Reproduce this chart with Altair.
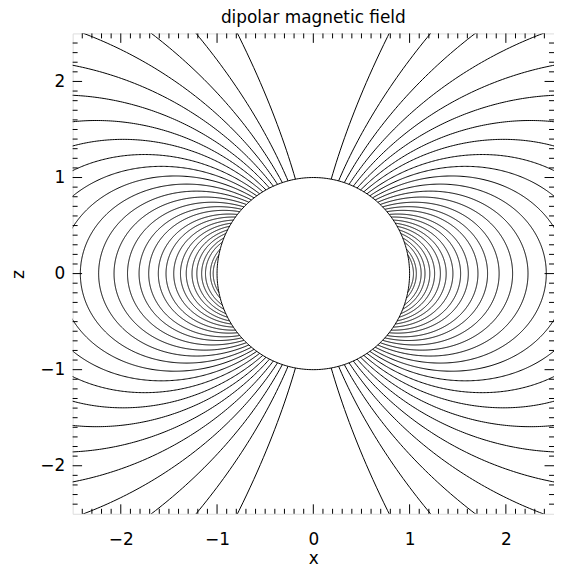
import numpy as np
import pandas as pd
import altair as alt

# ---- data -------------------------------------------------------------
# L-shell (equatorial crossing distance) of each plotted dipole field line
L_VALUES = [29.0, 14.5, 9.67, 7.25, 5.8, 4.83, 4.14, 3.63, 3.22, 2.9,
            2.64, 2.42, 2.23, 2.07, 1.93, 1.81, 1.71, 1.61, 1.53, 1.45,
            1.38, 1.32, 1.26, 1.21, 1.16, 1.12, 1.07, 1.04]
SIDES = [1, -1]                      # field lines on both sides of the dipole
PLANET_RADIUS = 1.0
DOMAIN = [-2.5, 2.5]
MAJOR_TICKS = [-2, -1, 0, 1, 2]
MINOR_TICKS = [round(-2.4 + 0.1 * i, 1) for i in range(49)
               if abs(round(-2.4 + 0.1 * i, 1) % 1) > 1e-9]
TITLE = "dipolar magnetic field"
X_TITLE = "x"
Z_TITLE = "z"

# ---- field line geometry: r = L sin^2(theta) ---------------------------
rows = []
lid = 0
for L in L_VALUES:
    th0 = np.arcsin(np.sqrt(PLANET_RADIUS / L))
    th = np.linspace(th0, np.pi - th0, 500)
    r = L * np.sin(th) ** 2
    for s in SIDES:
        xs = s * r * np.sin(th)
        zs = r * np.cos(th)
        for i, (a, b) in enumerate(zip(xs, zs)):
            rows.append((lid, i, a, b))
        lid += 1
# planet outline
phi = np.linspace(0, 2 * np.pi, 361)
for i, p in enumerate(phi):
    rows.append((lid, i, PLANET_RADIUS * np.cos(p), PLANET_RADIUS * np.sin(p)))
lines = pd.DataFrame(rows, columns=["id", "o", "x", "z"])

major = pd.DataFrame({"v": MAJOR_TICKS})
minor = pd.DataFrame({"v": MINOR_TICKS})

W, H = 484, 483
MAJ, MIN = 9.5, 5
FONT = "DejaVu Sans"
FS = 17

sc = alt.Scale(domain=DOMAIN, nice=False, zero=False)

x_axis = alt.Axis(values=MAJOR_TICKS, ticks=False, domain=False, grid=False,
                  labelFont=FONT, labelFontSize=FS, labelColor="black",
                  labelPadding=18, labelFlush=False,
                  title=X_TITLE, titleFont=FONT, titleFontSize=FS,
                  titleFontWeight="normal", titleColor="black",
                  titleX=242, titleY=45, titleBaseline="middle",
                  titleAlign="center")
y_axis = alt.Axis(values=MAJOR_TICKS, ticks=False, domain=False, grid=False,
                  labelFont=FONT, labelFontSize=FS, labelColor="black",
                  labelPadding=8, labelFlush=False,
                  title=Z_TITLE, titleFont=FONT, titleFontSize=FS,
                  titleFontWeight="normal", titleColor="black",
                  titleX=-54, titleY=242, titleAngle=270,
                  titleBaseline="middle", titleAlign="center")

field = alt.Chart(lines).mark_line(color="black", strokeWidth=1, clip=True).encode(
    x=alt.X("x:Q", scale=sc, axis=x_axis),
    y=alt.Y("z:Q", scale=sc, axis=y_axis),
    detail="id:N",
    order="o:Q",
)

def xticks(df, length):
    bottom = alt.Chart(df).mark_rule(color="black", strokeWidth=1).encode(
        x=alt.X("v:Q", scale=sc, axis=x_axis),
        y=alt.value(H), y2=alt.value(H - length))
    top = alt.Chart(df).mark_rule(color="black", strokeWidth=1).encode(
        x=alt.X("v:Q", scale=sc, axis=x_axis),
        y=alt.value(0), y2=alt.value(length))
    return [bottom, top]

def yticks(df, length):
    left = alt.Chart(df).mark_rule(color="black", strokeWidth=1).encode(
        y=alt.Y("v:Q", scale=sc, axis=y_axis),
        x=alt.value(0), x2=alt.value(length))
    right = alt.Chart(df).mark_rule(color="black", strokeWidth=1).encode(
        y=alt.Y("v:Q", scale=sc, axis=y_axis),
        x=alt.value(W), x2=alt.value(W - length))
    return [left, right]

layers = [field] + xticks(major, MAJ) + xticks(minor, MIN) + yticks(major, MAJ) + yticks(minor, MIN)

chart = alt.layer(*layers).properties(
    width=W, height=H,
    title=alt.Title(TITLE, font=FONT, fontSize=FS, fontWeight="normal",
                    color="black", anchor="middle", baseline="alphabetic",
                    offset=11, dy=18, frame="group"),
    autosize=alt.AutoSizeParams(type="none"),
    padding={"left": 65, "top": 24, "right": 0, "bottom": 58},
).configure_view(stroke="black", strokeWidth=1).configure(background="white")

chart.save("out.html", embed_options={"renderer": "svg", "actions": False})
